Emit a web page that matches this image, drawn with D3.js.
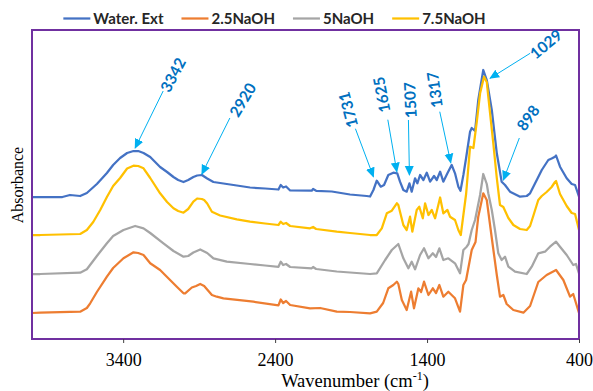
<!DOCTYPE html>
<html>
<head>
<meta charset="utf-8">
<script src="https://cdn.jsdelivr.net/npm/d3@7"></script>
<style>
  body { margin: 0; background: #fff; }
  svg { display: block; }
</style>
</head>
<body>
<svg id="chart" width="593" height="391"></svg>
<script>
// FTIR spectra: [wavenumber (cm-1), absorbance (offset, a.u.)]
let waterExt = [
  [4000,1.41],[3800,1.41],[3750,1.43],[3683,1.42],[3639,1.45],[3573,1.54],[3507,1.65],[3466,1.73],
  [3420,1.80],[3374,1.85],[3332,1.87],[3301,1.87],[3266,1.85],[3222,1.81],[3157,1.71],[3111,1.66],
  [3069,1.61],[3038,1.58],[3003,1.56],[2972,1.58],[2938,1.61],[2913,1.625],[2882,1.63],[2847,1.595],
  [2806,1.56],[2762,1.55],[2652,1.525],[2565,1.505],[2466,1.495],[2378,1.485],[2363,1.53],[2347,1.505],
  [2328,1.515],[2301,1.475],[2159,1.473],[2150,1.49],[2130,1.472],[2027,1.465],[1907,1.435],[1797,1.42],
  [1775,1.415],[1753,1.48],[1731,1.573],[1705,1.513],[1683,1.53],[1655,1.63],[1622,1.653],[1596,1.647],
  [1578,1.563],[1556,1.48],[1534,1.463],[1516,1.547],[1501,1.463],[1479,1.597],[1464,1.547],[1446,1.63],
  [1424,1.58],[1402,1.653],[1380,1.563],[1354,1.62],[1336,1.58],[1314,1.663],[1293,1.563],[1266,1.647],
  [1238,1.73],[1216,1.647],[1194,1.513],[1180,1.473],[1161,1.63],[1143,1.80],[1117,2.063],[1106,2.10],
  [1084,2.07],[1063,2.38],[1030,2.68],[1007,2.58],[974,2.28],[941,1.847],[909,1.563],[887,1.53],
  [854,1.463],[788,1.413],[744,1.42],[722,1.447],[678,1.58],[645,1.68],[602,1.78],[580,1.795],
  [558,1.813],[551,1.825],[525,1.713],[481,1.597],[448,1.54],[426,1.53],[400,1.413]
];
let naoh25 = [
  [4000,0.25],[3946,0.253],[3683,0.263],[3639,0.30],[3617,0.347],[3573,0.46],[3507,0.613],[3466,0.70],
  [3398,0.797],[3332,0.857],[3301,0.85],[3266,0.83],[3222,0.747],[3157,0.68],[3111,0.61],[3047,0.513],
  [3003,0.447],[2992,0.447],[2948,0.505],[2920,0.52],[2893,0.54],[2867,0.52],[2816,0.43],[2784,0.413],
  [2740,0.397],[2543,0.363],[2378,0.327],[2363,0.385],[2347,0.35],[2328,0.37],[2301,0.33],[2170,0.297],
  [2104,0.30],[1994,0.263],[1907,0.26],[1775,0.247],[1731,0.263],[1689,0.35],[1655,0.497],[1622,0.53],
  [1599,0.563],[1589,0.54],[1566,0.38],[1534,0.28],[1505,0.463],[1486,0.297],[1457,0.497],[1439,0.46],
  [1420,0.563],[1391,0.43],[1362,0.497],[1341,0.45],[1319,0.53],[1293,0.413],[1260,0.463],[1216,0.397],
  [1183,0.263],[1161,0.53],[1143,0.58],[1106,0.88],[1081,0.96],[1063,1.213],[1030,1.447],[1007,1.38],
  [974,1.00],[941,0.63],[920,0.413],[898,0.43],[876,0.34],[832,0.28],[766,0.253],[722,0.32],
  [668,0.56],[613,0.63],[551,0.68],[503,0.58],[459,0.413],[438,0.44],[400,0.25]
];
let naoh5 = [
  [4000,0.64],[3946,0.64],[3683,0.653],[3639,0.687],[3573,0.82],[3507,0.947],[3466,1.02],[3398,1.08],
  [3321,1.12],[3266,1.097],[3222,1.05],[3135,0.947],[3069,0.87],[3003,0.813],[2972,0.82],[2938,0.855],
  [2893,0.885],[2847,0.85],[2806,0.797],[2718,0.763],[2565,0.74],[2466,0.725],[2378,0.712],[2363,0.763],
  [2347,0.73],[2328,0.74],[2301,0.71],[2159,0.697],[2150,0.71],[2130,0.69],[1994,0.665],[1907,0.655],
  [1775,0.64],[1731,0.647],[1676,0.78],[1632,0.88],[1589,0.94],[1556,0.797],[1523,0.697],[1501,0.763],
  [1479,0.687],[1446,0.83],[1420,0.897],[1391,0.797],[1362,0.847],[1341,0.81],[1319,0.897],[1293,0.78],
  [1260,0.797],[1216,0.747],[1183,0.647],[1161,0.88],[1139,0.913],[1127,0.94],[1106,1.08],[1084,1.18],
  [1051,1.43],[1030,1.64],[1007,1.54],[997,1.447],[974,1.28],[953,1.08],[931,0.847],[909,0.78],
  [887,0.813],[865,0.713],[821,0.663],[744,0.64],[711,0.713],[668,0.847],[624,0.863],[591,0.913],
  [551,0.963],[525,0.913],[481,0.83],[438,0.73],[420,0.74],[400,0.647]
];
let naoh75 = [
  [4000,1.03],[3946,1.03],[3683,1.04],[3639,1.08],[3597,1.16],[3551,1.28],[3507,1.41],[3466,1.52],
  [3420,1.60],[3374,1.695],[3332,1.723],[3301,1.72],[3266,1.697],[3222,1.60],[3157,1.447],[3111,1.36],
  [3069,1.297],[3038,1.27],[3003,1.253],[2972,1.29],[2938,1.363],[2913,1.395],[2882,1.39],[2867,1.38],
  [2847,1.345],[2816,1.263],[2762,1.225],[2652,1.187],[2565,1.163],[2466,1.145],[2378,1.13],[2363,1.163],
  [2347,1.14],[2328,1.15],[2301,1.12],[2170,1.097],[2150,1.11],[2130,1.09],[1994,1.063],[1907,1.05],
  [1775,1.03],[1731,1.03],[1698,1.097],[1665,1.247],[1632,1.273],[1599,1.347],[1589,1.33],[1578,1.263],
  [1556,1.13],[1534,1.08],[1512,1.213],[1497,1.063],[1468,1.28],[1451,1.313],[1428,1.197],[1413,1.347],
  [1391,1.23],[1369,1.28],[1347,1.197],[1314,1.405],[1293,1.247],[1266,1.28],[1249,1.213],[1216,1.18],
  [1194,1.08],[1178,1.03],[1161,1.23],[1143,1.44],[1117,1.913],[1095,1.90],[1073,2.16],[1051,2.447],
  [1025,2.613],[1007,2.56],[997,2.413],[964,1.947],[941,1.60],[920,1.33],[898,1.31],[865,1.20],
  [832,1.13],[788,1.09],[744,1.08],[722,1.12],[701,1.22],[668,1.38],[645,1.42],[613,1.46],
  [580,1.51],[558,1.56],[551,1.57],[525,1.44],[503,1.38],[481,1.32],[448,1.25],[426,1.24],[400,1.08]
];

let seriesNames = ["Water. Ext", "2.5NaOH", "5NaOH", "7.5NaOH"];
let seriesData = [waterExt, naoh25, naoh5, naoh75];
let xTickValues = [3400, 2400, 1400, 400];

// peak call-outs: label, and where the arrow tip sits (wavenumber, absorbance)
let peakLabels = ["3342", "2920", "1731", "1625", "1507", "1317", "1029", "898"];
let peakTipWn = [3321, 2882, 1753, 1599, 1516, 1244, 985, 898];
let peakTipAbs = [1.90, 1.64, 1.613, 1.663, 1.63, 1.753, 2.597, 1.58];

// styling / layout
let colors = ["#4472C4", "#ED7D31", "#A5A5A5", "#FFC000"];
let labelOffset = [[38,-73],[41,-74],[-25,-67],[-15,-77],[1,-75],[-16,-73],[56,-34],[25,-62]];
let tailOffset = [[28,-57],[28,-56],[-18,-48],[-9,-52],[-1,-55],[-11,-51],[40,-25],[16,-42]];
let labelAngle = [-62, -59, -105, -101, -93, -98, -40, -54];

let margin = {top: 30, right: 14, bottom: 52, left: 32};
let width = 593 - margin.left - margin.right;
let height = 391 - margin.top - margin.bottom;

let svg = d3.select("#chart");

let x = d3.scaleLinear().domain([4000, 400]).range([margin.left, margin.left + width]);
let y = d3.scaleLinear().domain([0, 3.08]).range([margin.top + height - 1, margin.top]);

let line = d3.line()
  .x(function(d) { return x(d[0]); })
  .y(function(d) { return y(d[1]); });

// spectra (drawn in legend order, last on top)
seriesData.forEach(function(s, i) {
  svg.append("path").attr("d", line(s))
    .attr("fill", "none")
    .attr("stroke", colors[i])
    .attr("stroke-width", 2.25)
    .attr("stroke-linejoin", "round");
});

// plot frame
svg.append("rect")
  .attr("x", margin.left).attr("y", margin.top)
  .attr("width", width).attr("height", height)
  .attr("fill", "none")
  .attr("stroke", "#7030A0")
  .attr("stroke-width", 2);

// x axis
let xAxis = svg.append("g")
  .attr("transform", "translate(0," + (margin.top + height) + ")")
  .call(d3.axisBottom(x).tickValues(xTickValues).tickSize(4).tickPadding(10).tickFormat(d3.format("d")));
xAxis.select(".domain").remove();
xAxis.selectAll(".tick line").attr("stroke", "#404040");
xAxis.selectAll(".tick text")
  .attr("font-family", "Liberation Serif, Times New Roman, serif")
  .attr("font-size", 18)
  .attr("fill", "#000");

let xTitle = svg.append("text")
  .attr("x", 355).attr("y", 386.5)
  .attr("text-anchor", "middle")
  .attr("font-family", "Liberation Serif, Times New Roman, serif")
  .attr("font-size", 18.5)
  .text("Wavenumber (cm");
xTitle.append("tspan").attr("font-size", 12).attr("dy", -7).text("-1");
xTitle.append("tspan").attr("dy", 7).text(")");

svg.append("text")
  .attr("transform", "translate(23,185) rotate(-90)")
  .attr("text-anchor", "middle")
  .attr("font-family", "Liberation Serif, Times New Roman, serif")
  .attr("font-size", 16)
  .text("Absorbance");

// legend
let legend = svg.append("g");
let lx = 0;
seriesNames.forEach(function(name, i) {
  let item = legend.append("g").attr("transform", "translate(" + lx + ",0)");
  item.append("line")
    .attr("x1", 0).attr("x2", 27).attr("y1", 18.5).attr("y2", 18.5)
    .attr("stroke", colors[i]).attr("stroke-width", 2.25);
  let t = item.append("text")
    .attr("x", 30).attr("y", 24)
    .attr("font-family", "Lato, Calibri, sans-serif")
    .attr("font-weight", "bold")
    .attr("font-size", 15)
    .attr("fill", "#262626")
    .text(name);
  lx += 30 + t.node().getComputedTextLength() + 18;
});
let legendWidth = lx - 18;
legend.attr("transform", "translate(" + (274.5 - legendWidth / 2) + ",0)");

// peak call-outs
let defs = svg.append("defs");
defs.append("marker")
  .attr("id", "arrow")
  .attr("markerUnits", "userSpaceOnUse")
  .attr("markerWidth", 10).attr("markerHeight", 10)
  .attr("viewBox", "0 0 10 10")
  .attr("refX", 9).attr("refY", 5)
  .attr("orient", "auto")
  .append("path").attr("d", "M0,0.5 L10,5 L0,9.5 Z").attr("fill", "#00B0F0");

peakLabels.forEach(function(lab, i) {
  let tx = x(peakTipWn[i]), ty = y(peakTipAbs[i]);
  svg.append("line")
    .attr("x1", tx + tailOffset[i][0]).attr("y1", ty + tailOffset[i][1])
    .attr("x2", tx).attr("y2", ty)
    .attr("stroke", "#00B0F0").attr("stroke-width", 1)
    .attr("marker-end", "url(#arrow)");
  svg.append("text")
    .attr("transform", "translate(" + (tx + labelOffset[i][0]) + "," + (ty + labelOffset[i][1]) + ") rotate(" + labelAngle[i] + ")")
    .attr("text-anchor", "middle")
    .attr("dy", "0.35em")
    .attr("font-family", "Lato, Calibri, sans-serif")
    .attr("font-weight", "bold")
    .attr("font-size", 15.5)
    .attr("fill", "#0070C0")
    .text(lab);
});
</script>
</body>
</html>
